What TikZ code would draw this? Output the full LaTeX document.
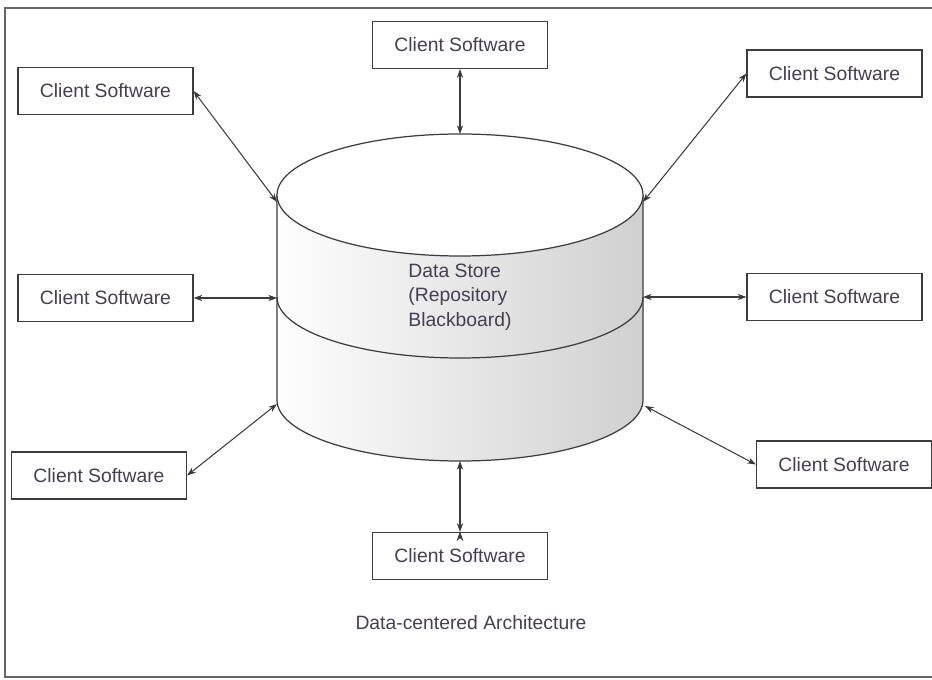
\documentclass[tikz,border=0pt]{standalone}
\usepackage{fontspec}
\setmainfont{Liberation Sans}
\usepackage{xcolor}
\usepackage{tikz}
\usetikzlibrary{arrows.meta}

\definecolor{inkgray}{RGB}{60,60,60}
\definecolor{labelink}{RGB}{70,62,82}
\pgfdeclarehorizontalshading{drumside}{100bp}{color(0bp)=(gray!18); color(14bp)=(white); color(24bp)=(white); color(100bp)=(gray!55)}

\tikzset{
	client/.style={draw=inkgray, line width=0.7pt, fill=white, minimum width=3.5cm,
		minimum height=0.94cm, inner sep=0pt, text=labelink, font=\fontsize{11}{13}\selectfont},
	drumline/.style={draw=inkgray, line width=0.7pt}
}

\begin{document}
\begin{tikzpicture}[x=0.02cm,y=0.02cm]
		\useasboundingbox (0,0) rectangle (932,679);
		\draw[gray!80!black, line width=1.2pt] (5,2) rectangle (945,671);
		%
		% the data store drum
		\shade[shading=drumside] (277,484) -- (277,279)
			arc[start angle=180, end angle=360, x radius=183, y radius=61] -- (643,484) -- cycle;
		\path[drumline] (277,484) -- (277,279)
			arc[start angle=180, end angle=360, x radius=183, y radius=61] -- (643,484);
		\path[drumline] (277,382) arc[start angle=180, end angle=360, x radius=183, y radius=61];
		\path[drumline, fill=white] (460,484) ellipse[x radius=183, y radius=61];
		\node[text=labelink, align=left, font=\fontsize{11}{13.9}\selectfont] (ds) at (460,382)
			{Data Store\\(Repository\\Blackboard)};
		%
		\coordinate (dsN) at (460,545);
		\coordinate (dsNW) at (277,477);
		\coordinate (dsNE) at (643,477);
		\coordinate (dsW) at (277,381);
		\coordinate (dsE) at (643,382);
		\coordinate (dsSW) at (277,275);
		\coordinate (dsSE) at (645,273);
		\coordinate (dsS) at (460,218);
		%
		\node[client] (cN) at (460,634) {Client Software};
		\node[client] (cNW) at (105.5,588) {Client Software};
		\node[client] (cNE) at (834.5,605.5) {Client Software};
		\node[client] (cW) at (105.5,381) {Client Software};
		\node[client] (cE) at (834.5,382) {Client Software};
		\node[client] (cSW) at (99,203.5) {Client Software};
		\node[client] (cSE) at (844,214.5) {Client Software};
		\node[client] (cS) at (460,123) {Client Software};
		%
		\path[<->, >={Stealth[length=5pt,width=3.6pt]}, draw=inkgray, line width=0.6pt]
			(cN.south) edge (dsN)
			(cNW.east) edge (dsNW)
			(cNE.west) edge (dsNE)
			(cW.east) edge (dsW)
			(cE.west) edge (dsE)
			(cSW.east) edge (dsSW)
			(cSE.west) edge (dsSE)
			(cS.north) edge (dsS);
		%
		\node[text=labelink, font=\fontsize{11}{13}\selectfont] (caption) at (471,56)
			{Data-centered Architecture};
	\end{tikzpicture}
\end{document}
